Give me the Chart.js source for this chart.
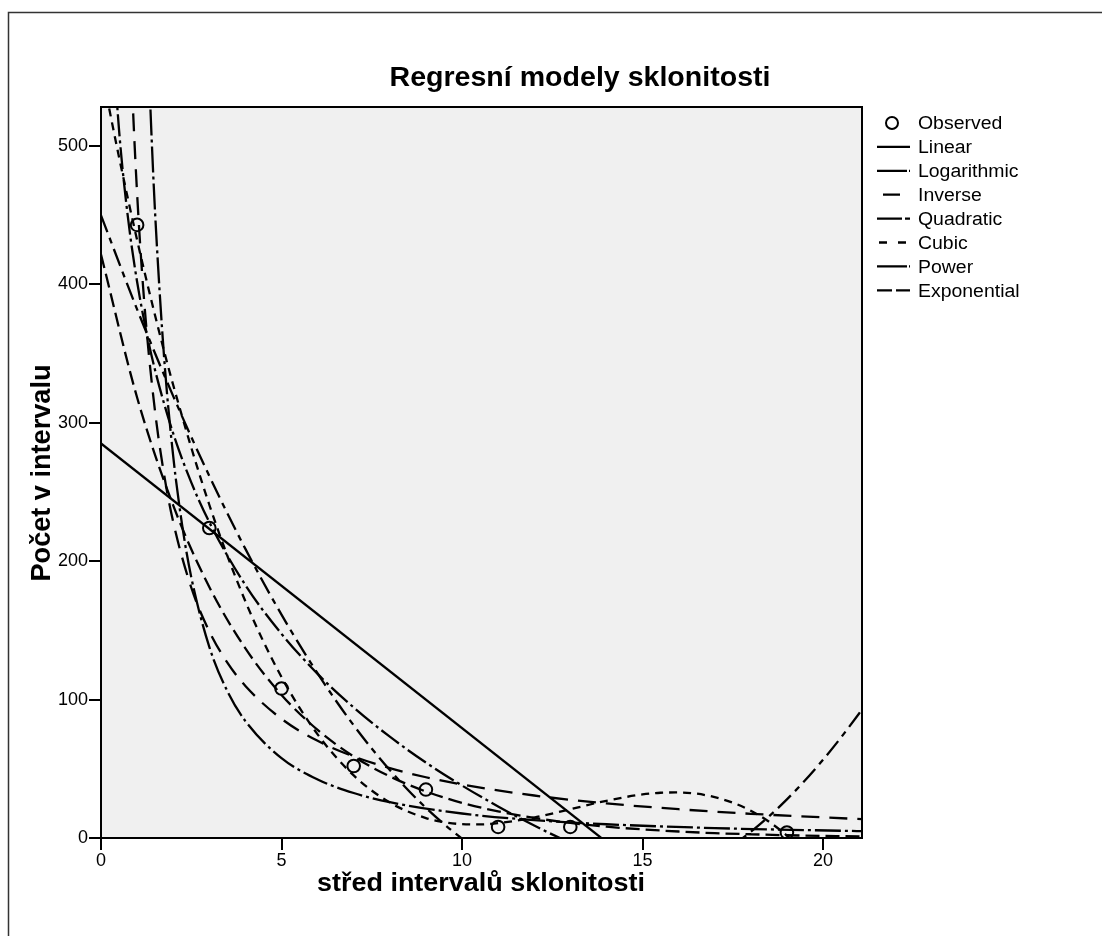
<!DOCTYPE html>
<html><head><meta charset="utf-8">
<script src="https://cdn.jsdelivr.net/npm/chart.js@4"></script>
<style>html,body{margin:0;padding:0;background:#fff;}#wrap{width:1102px;height:936px;}</style>
</head><body><div id="wrap"><canvas id="c" width="1102" height="936"></canvas></div>
<script>
const FONT = "'Liberation Sans', Arial, Helvetica, sans-serif";

// Observed data
const obsX = [1, 3, 5, 7, 9, 11, 13, 19];
const obsY = [443, 224, 108, 52, 35, 8, 8, 4];

// Model curves
const linX = [0, 21.08];
const linY = [285.1, -148.5];

const logX = [0.4, 0.5, 0.6, 0.8, 1, 1.25, 1.5, 2, 2.5, 3, 4, 5, 6, 7, 8, 9, 10, 11, 12, 13, 14];
const logY = [546.8, 511.5, 482.7, 437.2, 401.9, 366.6, 337.8, 292.3, 257.0, 228.2, 182.7, 147.5, 118.6, 94.3, 73.2, 54.5, 37.9, 22.8, 9.0, -3.6, -15.4];

const invX = [0.8, 0.9, 1, 1.1, 1.25, 1.5, 1.75, 2, 2.5, 3, 3.5, 4, 5, 6, 7, 8, 9, 10, 12, 14, 16, 18, 21.08];
const invY = [584.4, 518.5, 465.8, 422.6, 370.8, 307.6, 262.3, 228.4, 181.0, 149.3, 126.7, 109.8, 86.1, 70.2, 58.9, 50.5, 43.9, 38.6, 30.7, 25.0, 20.8, 17.5, 13.6];

const quadX = [0, 1, 2, 3, 4, 5, 6, 7, 8, 9, 10, 11, 12, 13, 14, 15, 16, 17, 18, 19, 20, 21, 21.08];
const quadY = [449.9, 382.0, 319.3, 261.6, 208.9, 161.4, 118.9, 81.4, 49.1, 21.8, -0.4, -17.5, -29.6, -36.6, -38.5, -35.4, -27.1, -13.9, 4.5, 27.9, 56.5, 90.0, 93.0];

const cubX = [0, 0.5, 1, 1.5, 2, 3, 4, 5, 6, 7, 8, 9, 9.5, 10, 10.5, 11, 12, 13, 14, 15, 15.5, 16, 17, 18, 19, 20, 21];
const cubY = [556.9, 491.9, 432.1, 377.3, 327.3, 240.8, 171.0, 116.3, 74.9, 45.2, 25.6, 14.4, 11.5, 10.0, 9.8, 10.7, 14.8, 20.8, 26.9, 31.5, 32.7, 32.9, 29.5, 19.7, 1.7, -26.0, -65.2];

const powX = [1.2, 1.3, 1.4, 1.5, 1.75, 2, 2.25, 2.5, 3, 3.5, 4, 5, 6, 7, 8, 10, 12, 14, 17, 21.08];
const powY = [660.0, 575.7, 507.3, 450.9, 346.6, 275.9, 225.7, 188.5, 138.1, 106.1, 84.5, 57.7, 42.3, 32.5, 25.9, 17.7, 12.9, 9.95, 7.15, 4.94];

const expX = [0, 1, 2, 3, 4, 5, 6, 7, 8, 9, 10, 11, 12, 13, 14, 15, 16, 17, 18, 19, 20, 21, 21.08];
const expY = [421.6, 318.3, 240.3, 181.4, 137.0, 103.4, 78.1, 58.9, 44.5, 33.6, 25.4, 19.2, 14.5, 10.9, 8.2, 6.2, 4.7, 3.5, 2.7, 2.0, 1.5, 1.2, 1.1];

// Axes
const xTicks = [0, 5, 10, 15, 20];
const yTicks = [0, 100, 200, 300, 400, 500];

// Text
const chartTitle = 'Regresní modely sklonitosti';
const xTitle = 'střed intervalů sklonitosti';
const yTitle = 'Počet v intervalu';
const legendLabels = ['Observed', 'Linear', 'Logarithmic', 'Inverse', 'Quadratic', 'Cubic', 'Power', 'Exponential'];

const pts = (xs, ys) => xs.map((x, i) => ({x: x, y: ys[i]}));

const models = [
  {xs: linX, ys: linY, dash: [], ldash: []},
  {xs: logX, ys: logY, dash: [22, 4, 3, 4], ldash: [30, 2, 2, 10]},
  {xs: invX, ys: invY, dash: [18, 10], ldash: [0, 6, 17, 20]},
  {xs: quadX, ys: quadY, dash: [18, 6, 6, 6], ldash: [25, 3, 5, 10]},
  {xs: cubX, ys: cubY, dash: [8, 6], ldash: [0, 2, 8, 11, 8, 20]},
  {xs: powX, ys: powY, dash: [26, 4, 3, 4], ldash: [30, 2, 2, 10]},
  {xs: expX, ys: expY, dash: [14, 6], ldash: [15, 4, 14, 10]}
];

const datasets = [{
  label: legendLabels[0],
  data: pts(obsX, obsY),
  showLine: false,
  pointRadius: 6.3,
  pointBorderWidth: 2,
  pointBorderColor: '#000',
  pointBackgroundColor: 'rgba(0,0,0,0)',
  order: 0
}].concat(models.map((m, i) => ({
  label: legendLabels[i + 1],
  data: pts(m.xs, m.ys),
  showLine: true,
  borderColor: '#000',
  borderWidth: 2.3,
  borderDash: m.dash,
  pointRadius: 0,
  cubicInterpolationMode: 'monotone',
  fill: false,
  order: 1
})));

function fitText(ctx, text, cx, by, w, size, rot) {
  ctx.save();
  ctx.translate(cx, by);
  if (rot) ctx.rotate(rot);
  ctx.font = 'bold ' + size + 'px ' + FONT;
  const m = ctx.measureText(text).width;
  ctx.scale(w / m, 1);
  ctx.textAlign = 'center';
  ctx.textBaseline = 'alphabetic';
  ctx.fillStyle = '#000';
  ctx.fillText(text, 0, 0);
  ctx.restore();
}

const decor = {
  id: 'decor',
  beforeDraw(chart) {
    const ctx = chart.ctx, a = chart.chartArea;
    ctx.save();
    ctx.fillStyle = '#fff';
    ctx.fillRect(0, 0, chart.width, chart.height);
    ctx.fillStyle = '#f0f0f0';
    ctx.fillRect(a.left, a.top, a.right - a.left, a.bottom - a.top);
    ctx.restore();
  },
  afterDraw(chart) {
    const ctx = chart.ctx, a = chart.chartArea;
    ctx.save();
    ctx.strokeStyle = '#000';
    ctx.lineWidth = 2;
    ctx.beginPath();
    ctx.moveTo(a.left, a.top); ctx.lineTo(a.right, a.top); ctx.lineTo(a.right, a.bottom);
    ctx.stroke();
    ctx.strokeStyle = '#333';
    ctx.lineWidth = 1.5;
    ctx.beginPath();
    ctx.moveTo(8.5, 936); ctx.lineTo(8.5, 12.5); ctx.lineTo(1102, 12.5);
    ctx.stroke();
    fitText(ctx, chartTitle, 580, 86, 381, 27, 0);
    fitText(ctx, xTitle, 481, 891, 328, 26, 0);
    fitText(ctx, yTitle, 50, 473, 217, 27, -Math.PI / 2);
    const lx0 = 877, lx1 = 910, tx = 918, y0 = 123, dy = 23.9;
    for (let i = 0; i < legendLabels.length; i++) {
      const y = y0 + i * dy;
      ctx.strokeStyle = '#000';
      if (i === 0) {
        ctx.setLineDash([]);
        ctx.lineWidth = 2;
        ctx.beginPath(); ctx.arc(892, y, 6, 0, Math.PI * 2); ctx.stroke();
      } else {
        ctx.setLineDash(models[i - 1].ldash);
        ctx.lineWidth = 2.3;
        ctx.beginPath(); ctx.moveTo(lx0, y); ctx.lineTo(lx1, y); ctx.stroke();
        ctx.setLineDash([]);
      }
      ctx.save();
      ctx.translate(tx, y + 6.3);
      ctx.scale(1.08, 1);
      ctx.font = '18px ' + FONT;
      ctx.textAlign = 'left';
      ctx.textBaseline = 'alphabetic';
      ctx.fillStyle = '#000';
      ctx.fillText(legendLabels[i], 0, 0);
      ctx.restore();
    }
    ctx.restore();
  }
};

new Chart(document.getElementById('c'), {
  type: 'scatter',
  data: {datasets: datasets},
  options: {
    responsive: false,
    animation: false,
    devicePixelRatio: 1,
    layout: {padding: {left: 0, top: 107, right: 240, bottom: 0}},
    plugins: {legend: {display: false}, title: {display: false}, tooltip: {enabled: false}},
    scales: {
      x: {
        type: 'linear', min: 0, max: 21.08,
        afterFit: s => { s.height = 98; },
        afterBuildTicks: s => { s.ticks = xTicks.map(v => ({value: v})); },
        ticks: {color: '#000', font: {family: FONT, size: 18}, padding: 0},
        grid: {display: true, drawOnChartArea: false, drawTicks: true, tickLength: 12, color: '#000', lineWidth: 2},
        border: {display: true, color: '#000', width: 2}
      },
      y: {
        type: 'linear', min: 0, max: 528.2,
        afterFit: s => { s.width = 101; },
        afterBuildTicks: s => { s.ticks = yTicks.map(v => ({value: v})); },
        ticks: {color: '#000', font: {family: FONT, size: 18}, padding: 1},
        grid: {display: true, drawOnChartArea: false, drawTicks: true, tickLength: 12, color: '#000', lineWidth: 2},
        border: {display: true, color: '#000', width: 2}
      }
    }
  },
  plugins: [decor]
});
</script>
</body></html>
